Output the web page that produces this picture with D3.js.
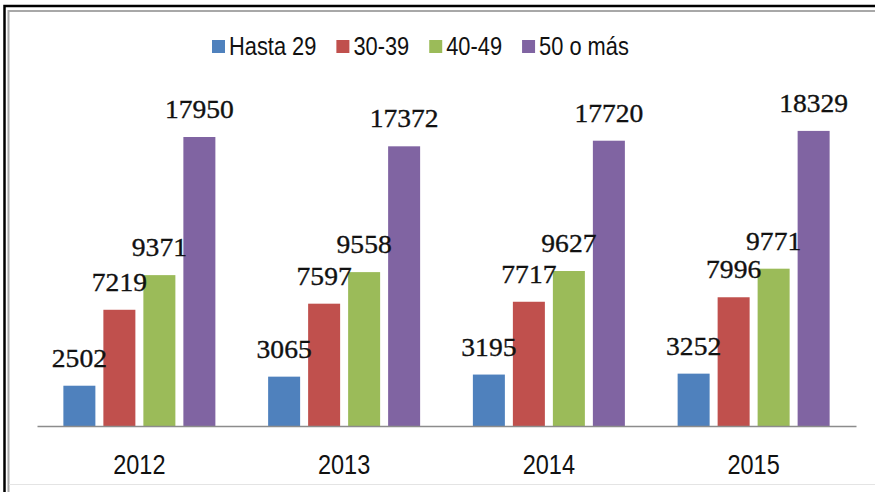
<!DOCTYPE html>
<html>
<head>
<meta charset="utf-8">
<script src="https://cdn.jsdelivr.net/npm/d3@7/dist/d3.min.js"></script>
<style>
  html, body { margin: 0; padding: 0; background: #ffffff; }
  svg { display: block; }
</style>
</head>
<body>
<div id="chart"></div>
<script>
// ---- Data ----
const years = ["2012", "2013", "2014", "2015"];
const seriesNames = ["Hasta 29", "30-39", "40-49", "50 o más"];
const hasta29 = [2502, 3065, 3195, 3252];
const s30_39 = [7219, 7597, 7717, 7996];
const s40_49 = [9371, 9558, 9627, 9771];
const s50mas = [17950, 17372, 17720, 18329];
const seriesColors = ["#4F81BD", "#C0504D", "#9BBB59", "#8064A2"];

const seriesValues = [hasta29, s30_39, s40_49, s50mas];

const W = 875, H = 492;
const sansFont = "'Liberation Sans', Arial, sans-serif";
const narrow = 0.84;

const svg = d3.select("#chart").append("svg")
  .attr("width", W).attr("height", H);

svg.append("rect").attr("width", W).attr("height", H).attr("fill", "#ffffff");

// frame borders
svg.append("path")
  .attr("d", "M4.5,492 L4.5,6 L875,6")
  .attr("fill", "none").attr("stroke", "#000").attr("stroke-width", 2.5);
svg.append("path")
  .attr("d", "M8.5,492 L8.5,11 L875,11")
  .attr("fill", "none").attr("stroke", "#a8a8a8").attr("stroke-width", 2);
svg.append("line")
  .attr("x1", 9).attr("x2", 875).attr("y1", 484.5).attr("y2", 484.5)
  .attr("stroke", "#e4e4e4").attr("stroke-width", 1);

// scales
const x0 = d3.scaleBand().domain(years).range([37, 856]).padding(0);
const bw = x0.bandwidth();
const x1 = d3.scaleBand().domain(seriesNames)
  .range([bw / 2 - 80, bw / 2 + 80]).paddingInner(0.2).paddingOuter(0.1);
const y = d3.scaleLinear().domain([0, 20000]).range([426, 104]);

// bars
const groups = svg.append("g").selectAll("g")
  .data(years).join("g")
  .attr("transform", d => `translate(${x0(d)},0)`);

groups.each(function(year, yi) {
  const g = d3.select(this);
  const recs = seriesNames.map((s, si) => ({ s, si, v: seriesValues[si][yi] }));
  g.selectAll("rect").data(recs).join("rect")
    .attr("x", d => x1(d.s))
    .attr("width", x1.bandwidth())
    .attr("y", d => y(d.v))
    .attr("height", d => y(0) - y(d.v))
    .attr("fill", d => seriesColors[d.si]);
});

// x axis line
const axis = d3.axisBottom(x0).tickSize(0).tickPadding(0).tickFormat(() => "");
const axG = svg.append("g").attr("transform", `translate(0,${y(0)})`).call(axis);
axG.select(".domain").attr("stroke", "#8c8c8c").attr("stroke-width", 1.5);

// category labels
svg.append("g").selectAll("text").data(years).join("text")
  .attr("transform", d => `translate(${x0(d) + bw / 2},474) scale(${narrow},1)`)
  .attr("text-anchor", "middle")
  .attr("font-family", sansFont)
  .attr("font-size", 28)
  .attr("fill", "#111")
  .text(d => d);

// data labels
groups.each(function(year, yi) {
  const g = d3.select(this);
  const recs = seriesNames.map((s, si) => ({ s, si, v: seriesValues[si][yi] }));
  g.selectAll("text.lbl").data(recs).join("text")
    .attr("class", "lbl")
    .attr("transform", d => `translate(${x1(d.s) + x1.bandwidth() / 2},${y(d.v) - 19}) scale(1.06,1)`)
    .attr("text-anchor", "middle")
    .attr("font-family", "'Liberation Serif', 'Times New Roman', serif")
    .attr("font-size", 26)
    .attr("fill", "#111")
    .attr("stroke", "#111")
    .attr("stroke-width", 0.35)
    .text(d => d.v);
});

// legend
const legend = svg.append("g");
let lx = 212;
seriesNames.forEach((name, i) => {
  legend.append("rect")
    .attr("x", lx).attr("y", 40).attr("width", 13).attr("height", 13)
    .attr("fill", seriesColors[i]);
  const t = legend.append("text")
    .attr("transform", `translate(${lx + 17},55) scale(${narrow},1)`)
    .attr("font-family", sansFont)
    .attr("font-size", 26)
    .attr("fill", "#111")
    .text(name);
  lx = lx + 17 + t.node().getComputedTextLength() * narrow + 20;
});
</script>
</body>
</html>
